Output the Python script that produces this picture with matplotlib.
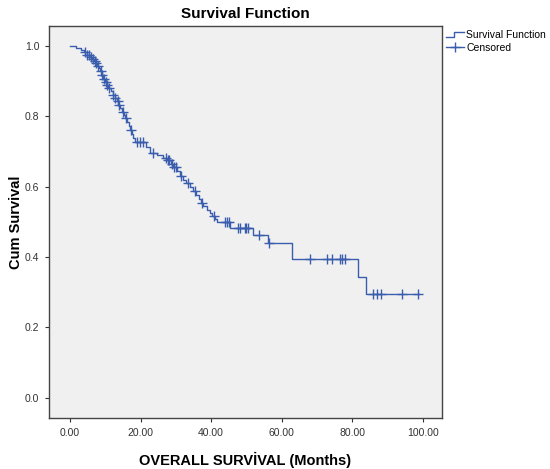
import numpy as np
import matplotlib
matplotlib.use("Agg")
import matplotlib.pyplot as plt
from matplotlib.lines import Line2D
from matplotlib.legend_handler import HandlerBase

plt.rcParams['font.family'] = ['Liberation Sans', 'DejaVu Sans']

# Kaplan-Meier steps: event time (months) and survival after it
event_times = [1.6, 3.2, 4.0, 4.8, 5.6, 6.3, 6.9, 7.3, 7.8, 8.2,
               8.6, 9.0, 9.4, 9.9, 10.4, 10.9, 11.5, 12.1, 12.7, 13.2,
               13.7, 14.2, 14.7, 15.2, 15.7, 16.2, 16.6, 17.0, 17.5, 18.0,
               18.4, 21.5, 22.7, 24.6, 26.5, 27.6, 28.6, 29.3, 30.2, 31.1,
               32.0, 33.0, 34.0, 35.0, 35.8, 36.5, 37.2, 37.8, 38.8, 39.6,
               40.3, 41.0, 41.7, 45.3, 51.8, 56.1, 62.9, 81.6, 83.9]
surv = [0.994, 0.988, 0.982, 0.976, 0.970, 0.964, 0.957, 0.951, 0.944, 0.937,
        0.928, 0.918, 0.905, 0.898, 0.890, 0.881, 0.872, 0.862, 0.852, 0.843,
        0.833, 0.824, 0.814, 0.805, 0.795, 0.784, 0.773, 0.761, 0.750, 0.739,
        0.727, 0.712, 0.696, 0.690, 0.683, 0.676, 0.666, 0.656, 0.644, 0.632,
        0.620, 0.610, 0.600, 0.589, 0.577, 0.566, 0.554, 0.545, 0.535, 0.525,
        0.516, 0.508, 0.500, 0.483, 0.463, 0.440, 0.395, 0.344, 0.295]
last_time = 99.0

# censored observations (months)
censor_times = [4.3, 4.9, 5.3, 6.0, 6.6, 7.0, 7.5, 8.0, 8.8, 9.2,
                9.6, 10.1, 10.6, 11.2, 12.3, 12.9, 13.5, 14.0, 15.0, 16.0,
                17.2, 19.0, 19.8, 20.8, 23.5, 27.2, 27.9, 28.2, 28.9, 29.6,
                30.0, 31.5, 33.5, 35.3, 37.5, 40.7, 44.0, 44.5, 45.0, 47.5,
                48.2, 49.5, 50.0, 50.4, 53.5, 56.5, 68.0, 72.8, 74.2, 76.5,
                77.2, 78.0, 85.8, 87.0, 88.1, 94.0, 98.6]

xticks = [0, 20, 40, 60, 80, 100]
yticks = [0.0, 0.2, 0.4, 0.6, 0.8, 1.0]

BLUE = '#3B5DAE'


class StepHandler(HandlerBase):
    def create_artists(self, legend, orig_handle, xdescent, ydescent,
                       width, height, fontsize, trans):
        x0 = -xdescent
        y0 = -ydescent
        xs = [x0, x0 + width * 0.45, x0 + width * 0.45, x0 + width]
        ys = [y0 + height * 0.15, y0 + height * 0.15, y0 + height * 0.85, y0 + height * 0.85]
        ln = Line2D(xs, ys, color=BLUE, lw=1.0, transform=trans)
        return [ln]


fig = plt.figure(figsize=(5.5, 4.69), dpi=100)
ax = fig.add_axes([0.089, 0.109, 0.7145, 0.8355])
ax.set_facecolor('#F0F0F0')

xs = np.concatenate([[0.0], event_times, [last_time]])
ys = np.concatenate([[1.0], surv, [surv[-1]]])
ax.step(xs, ys, where='post', color=BLUE, lw=1.0, zorder=3)

ct = np.array(censor_times)
idx = np.searchsorted(np.array(event_times), ct, side='right')
cs = np.concatenate([[1.0], surv])[idx]
ax.plot(ct, cs, ls='none', marker='+', ms=7, mew=1.0, color=BLUE, zorder=4)

ax.set_xlim(-5.95, 105.4)
ax.set_ylim(-0.057, 1.057)
ax.set_xticks(xticks)
ax.set_xticklabels(['%.2f' % v for v in xticks])
ax.set_yticks(yticks)
ax.set_yticklabels(['%.1f' % v for v in yticks])
ax.tick_params(direction='out', length=3, width=0.8, labelsize=7.5,
               colors='#333333', pad=4)

for s in ax.spines.values():
    s.set_color('#444444')
    s.set_linewidth(1.0)

ax.set_title('Survival Function', fontsize=11, fontweight='bold', pad=6)
ax.set_xlabel('OVERALL SURVİVAL (Months)', fontsize=10.5, fontweight='bold')
ax.set_ylabel('Cum Survival', fontsize=10.5, fontweight='bold')
ax.yaxis.set_label_coords(-0.067, 0.5)
ax.xaxis.set_label_coords(0.5, -0.088)

h1 = Line2D([], [], color=BLUE)
h2 = Line2D([], [], color=BLUE, marker='+', ms=7, lw=1.0)
fig.legend([h1, h2], ['Survival Function', 'Censored'],
           handler_map={h1: StepHandler()},
           loc='upper left', bbox_to_anchor=(0.797, 0.952),
           frameon=False, fontsize=7.5, handlelength=1.8, handletextpad=0.2,
           labelspacing=0.3, borderpad=0.2)

fig.savefig('out.png', dpi=100)
